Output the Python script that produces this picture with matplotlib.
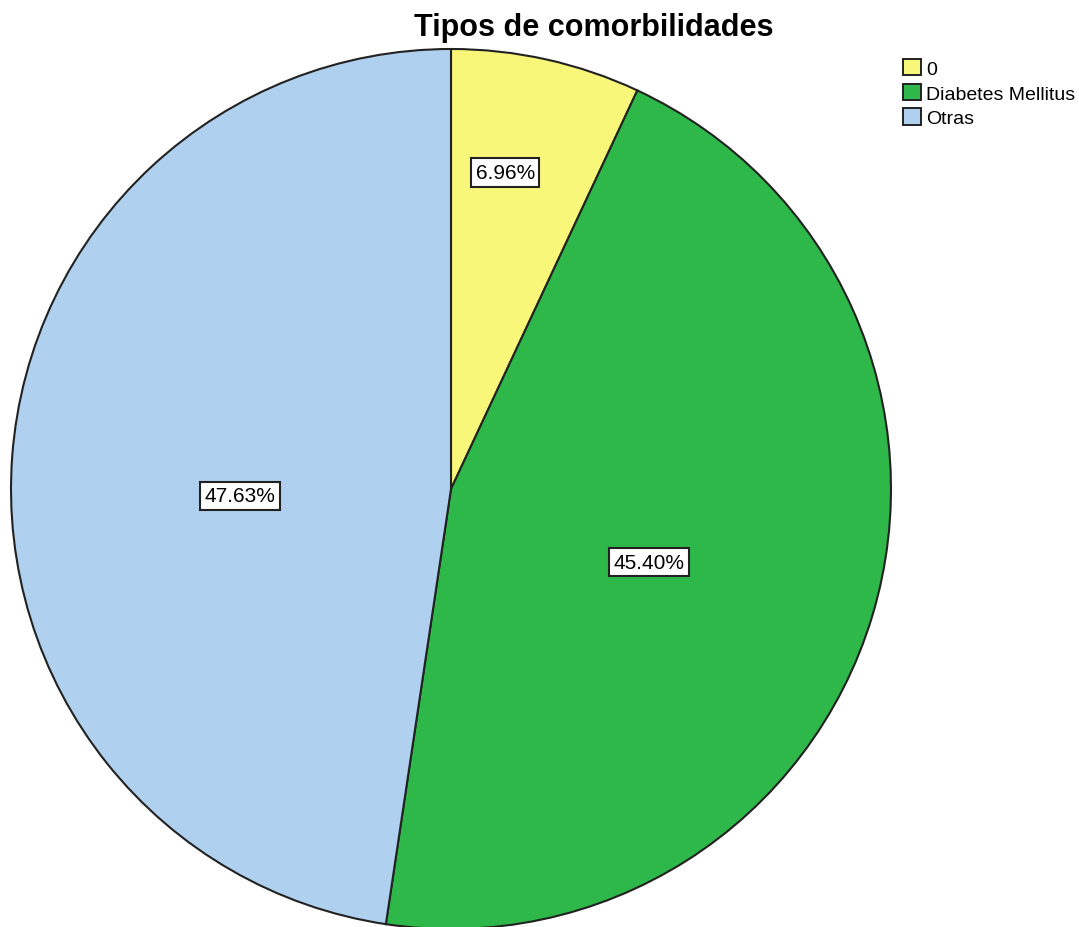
import numpy as np
import matplotlib.pyplot as plt
from matplotlib.patches import Patch

plt.rcParams["font.family"] = ["Liberation Sans", "DejaVu Sans"]

labels = ["0", "Diabetes Mellitus", "Otras"]
values = [6.96, 45.40, 47.63]
colors = ["#F9F77A", "#2EB84A", "#AFD0EE"]
label_radius = [0.73, 0.48, 0.48]
label_shift = [2.8, -3.5, 6.1]  # degrees off the wedge middle

fig = plt.figure(figsize=(10.79, 9.28), dpi=100)
ax = fig.add_axes([11 / 1079, -2 / 928, 880 / 1079, 880 / 928])

wedges, _ = ax.pie(values, colors=colors, startangle=90, counterclock=False,
                   radius=1.0,
                   wedgeprops=dict(edgecolor="#222222", linewidth=1.5))
ax.set_xlim(-1, 1)
ax.set_ylim(-1, 1)
ax.set_aspect("equal")

# percentage boxes inside each wedge
for w, v, r, s in zip(wedges, values, label_radius, label_shift):
    mid = np.deg2rad((w.theta1 + w.theta2) / 2 + s)
    ax.text(r * np.cos(mid), r * np.sin(mid), f"{v:.2f}%",
            ha="center", va="center", fontsize=15,
            bbox=dict(boxstyle="square,pad=0.22", facecolor="white",
                      edgecolor="#222222", linewidth=1.5))

fig.text(594 / 1079, 1 - 28 / 928, "Tipos de comorbilidades",
         ha="center", va="center", fontsize=22, fontweight="bold")

handles = [Patch(facecolor=c, edgecolor="#222222", linewidth=1.4) for c in colors]
fig.legend(handles, labels, loc="upper left", bbox_to_anchor=(889 / 1079, 1 - 46 / 928),
           frameon=False, fontsize=14, handlelength=0.95, handleheight=0.95,
           handletextpad=0.25, labelspacing=0.3, borderpad=0.2)

fig.savefig("out.png", dpi=100)
